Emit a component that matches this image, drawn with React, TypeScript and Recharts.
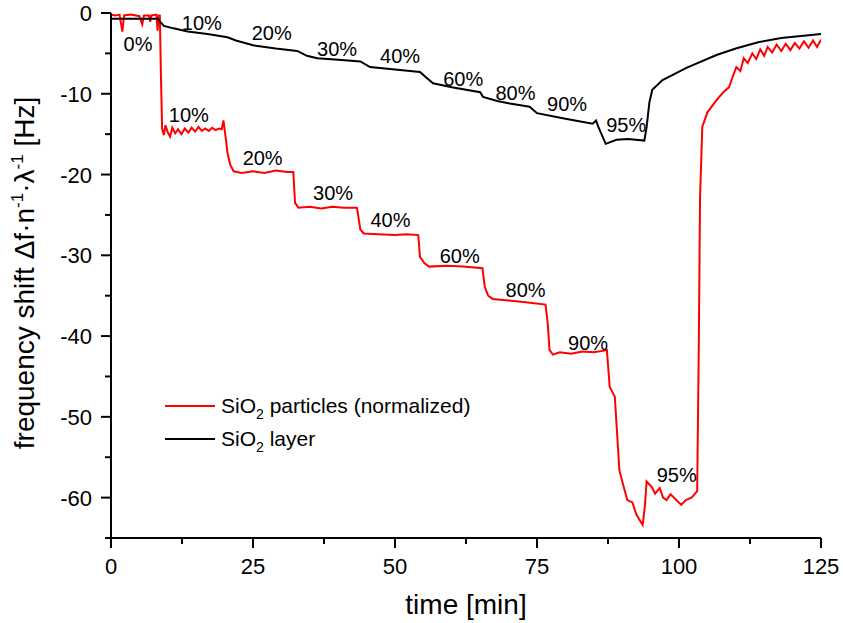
import { Line, LineChart, ReferenceDot, XAxis, YAxis } from "recharts";

const redTime = [
  0, 0.8, 1.5, 2.0, 2.3, 3.5, 5.0, 5.5, 5.8, 6.7, 6.9, 7.1, 8.0, 8.2, 8.4, 8.6, 8.8, 9.0, 9.3, 9.6,
  10.0, 10.4, 10.8, 11.3, 11.8, 12.4, 13.0, 13.6, 14.2, 14.8, 15.4, 16.0, 16.6, 17.2, 17.8, 18.4,
  19.0, 19.5, 19.8, 20.2, 20.5, 21.0, 21.6, 23, 25, 27, 29, 31, 32.1, 32.4, 33, 35, 37, 39, 41,
  43.3, 43.9, 44.5, 47, 50, 52, 54.1, 54.4, 55.2, 56, 59, 62, 65.4, 65.8, 66.4, 67.2, 70, 73,
  76.5, 76.9, 77.2, 77.8, 79, 81, 83, 85, 86.8, 87.3, 87.8, 88.7, 89.5, 90.2, 90.9, 91.8, 92.5,
  93.6, 94.0, 94.3, 95.2, 95.8, 96.6, 97.2, 97.8, 98.5, 99.4, 100.4, 101.2, 102.2, 103.2, 103.5,
  103.7, 104.1, 105, 106.6, 107.8, 108.8, 109.5, 110.1, 110.8, 111.4, 112.1, 112.9, 113.6, 114.3,
  115.0, 115.6, 116.4, 117.2, 118.0, 118.8, 119.6, 120.4, 121.2, 122.0, 122.8, 123.6, 124.3, 125.0,
];
const redShift = [
  -0.2, -0.3, -0.2, -2.3, -0.3, -0.2, -0.4, -1.4, -0.3, -0.3, -1.1, -0.3, -0.2, -2.2, -0.3, -0.3,
  -8, -14.3, -15.1, -13.9, -14.8, -15.3, -14.2, -14.9, -14.4, -15.0, -14.3, -14.8, -14.2, -14.7,
  -14.1, -14.6, -14.3, -14.6, -14.2, -14.5, -14.3, -14.4, -13.3, -15.5, -17.3, -18.8, -19.6, -19.8,
  -19.6, -19.8, -19.5, -19.7, -19.7, -23.5, -24.1, -24.0, -24.2, -24.0, -24.1, -24.1, -26.8, -27.3,
  -27.4, -27.5, -27.4, -27.5, -30.2, -31.0, -31.4, -31.3, -31.4, -31.6, -33.9, -35.0, -35.4, -35.6,
  -35.8, -36.1, -38.5, -41.7, -42.3, -42.0, -42.2, -41.9, -42.0, -41.8, -41.7, -46.3, -47.5, -56.6,
  -58.5, -60.3, -60.6, -62.1, -63.4, -61, -58.0, -58.7, -59.5, -58.8, -60.0, -60.3, -59.6, -60.2,
  -60.9, -60.3, -60.0, -59.2, -40, -23, -14.1, -12.3, -10.8, -9.8, -9.2, -7.8, -6.7, -7.2, -5.6,
  -6.2, -5.0, -5.7, -4.5, -5.3, -4.2, -4.9, -3.9, -4.7, -3.8, -4.6, -3.7, -4.4, -3.5, -4.3, -3.4,
  -4.2, -3.3,
];

const blackTime = [
  0, 4, 8.2, 8.8, 9.3, 11, 13.5, 17, 20.5, 22, 25, 29, 32.8, 34.5, 36.3, 40, 43.9, 45.6, 50, 54.4,
  55.5, 56.7, 60, 65, 65.5, 68, 70.2, 73.7, 75, 80, 84.8, 85.4, 85.8, 87.1, 89, 91, 93.9, 94.3,
  94.8, 95.3, 97.1, 101.3, 106.6, 110, 114.1, 118, 125,
];
const blackShift = [
  -0.7, -0.7, -0.7, -1.2, -1.6, -1.9, -2.3, -2.6, -3.0, -3.4, -4.0, -4.4, -4.7, -5.3, -5.6, -5.8,
  -6.0, -6.7, -7.0, -7.3, -8.0, -8.7, -9.2, -9.8, -10.4, -10.9, -11.2, -11.6, -12.4, -13.1, -13.7,
  -13.3, -14.1, -16.2, -15.7, -15.6, -15.8, -14.1, -11, -9.5, -8.3, -6.8, -5.2, -4.4, -3.6, -3.1,
  -2.6,
];

const redLabelTime = [4.75, 13.7, 26.7, 39.1, 49.2, 61.4, 73.0, 84.0, 99.6];
const redLabelShift = [-3.8, -12.6, -18.0, -22.3, -25.6, -30.1, -34.3, -40.8, -57.2];
const redLabelText = ["0%", "10%", "20%", "30%", "40%", "60%", "80%", "90%", "95%"];

const blackLabelTime = [16.0, 28.3, 39.8, 50.9, 62.0, 71.2, 80.3, 90.7];
const blackLabelShift = [-1.2, -2.5, -4.5, -5.3, -8.2, -9.9, -11.3, -13.9];
const blackLabelText = ["10%", "20%", "30%", "40%", "60%", "80%", "90%", "95%"];

const xTicks = [0, 12.5, 25, 37.5, 50, 62.5, 75, 87.5, 100, 112.5, 125];
const xMajor = [0, 25, 50, 75, 100, 125];
const yTicks = [-65, -60, -55, -50, -45, -40, -35, -30, -25, -20, -15, -10, -5, 0];
const yMajor = [-60, -50, -40, -30, -20, -10, 0];

const redData = redTime.map((t, i) => ({ t, v: redShift[i] }));
const blackData = blackTime.map((t, i) => ({ t, v: blackShift[i] }));

const FONT = "Arial, 'Liberation Sans', Helvetica, sans-serif";
const W = 843;
const H = 623;
const M = { top: 13, right: 22, bottom: 45, left: 51 };
const Y_AXIS_W = 60;
const X_AXIS_H = 40;
const AXIS_X = M.left + Y_AXIS_W;
const AXIS_Y = H - M.bottom - X_AXIS_H;

function XTick(props: any) {
  const { x, payload } = props;
  const major = xMajor.includes(payload.value);
  return (
    <g>
      <line x1={x} x2={x} y1={AXIS_Y} y2={AXIS_Y + (major ? 10 : 6)} stroke="#000" strokeWidth={2} />
      {major && (
        <text x={x} y={AXIS_Y + 36} textAnchor="middle" fontSize={22} fontFamily={FONT} fill="#000">
          {payload.value}
        </text>
      )}
    </g>
  );
}

function YTick(props: any) {
  const { y, payload } = props;
  const major = yMajor.includes(payload.value);
  return (
    <g>
      <line x1={AXIS_X - (major ? 10 : 6)} x2={AXIS_X} y1={y} y2={y} stroke="#000" strokeWidth={2} />
      {major && (
        <text x={AXIS_X - 19} y={y + 8} textAnchor="end" fontSize={22} fontFamily={FONT} fill="#000">
          {payload.value}
        </text>
      )}
    </g>
  );
}

function PctLabel(props: any) {
  const { viewBox, value } = props;
  const cx = viewBox.x + (viewBox.width || 0) / 2;
  const cy = viewBox.y + (viewBox.height || 0) / 2;
  return (
    <text x={cx} y={cy + 7} textAnchor="middle" fontSize={20} fontFamily={FONT} fill="#000">
      {value}
    </text>
  );
}

const legendRows = [
  { color: "#ff0000", rest: " particles (normalized)", y: 406 },
  { color: "#000000", rest: " layer", y: 439 },
];

export default function App() {
  return (
    <div style={{ position: "absolute", left: 0, top: 0, width: W, height: H, background: "#fff" }}>
      <LineChart width={W} height={H} margin={M}>
        <XAxis
          dataKey="t"
          type="number"
          domain={[0, 125]}
          ticks={xTicks}
          interval={0}
          tick={<XTick />}
          tickLine={false}
          height={X_AXIS_H}
          axisLine={{ stroke: "#000", strokeWidth: 2 }}
          allowDataOverflow
        />
        <YAxis
          type="number"
          domain={[-65, 0]}
          ticks={yTicks}
          interval={0}
          tick={<YTick />}
          tickLine={false}
          width={Y_AXIS_W}
          axisLine={{ stroke: "#000", strokeWidth: 2 }}
          allowDataOverflow
        />
        <Line
          data={redData}
          dataKey="v"
          name="SiO2 particles (normalized)"
          stroke="#ff0000"
          strokeWidth={2}
          dot={false}
          type="linear"
          isAnimationActive={false}
        />
        <Line
          data={blackData}
          dataKey="v"
          name="SiO2 layer"
          stroke="#000000"
          strokeWidth={2}
          dot={false}
          type="linear"
          isAnimationActive={false}
        />
        {redLabelTime.map((t, i) => (
          <ReferenceDot
            key={`r${i}`}
            x={t}
            y={redLabelShift[i]}
            r={0}
            fill="none"
            stroke="none"
            label={<PctLabel value={redLabelText[i]} />}
          />
        ))}
        {blackLabelTime.map((t, i) => (
          <ReferenceDot
            key={`b${i}`}
            x={t}
            y={blackLabelShift[i]}
            r={0}
            fill="none"
            stroke="none"
            label={<PctLabel value={blackLabelText[i]} />}
          />
        ))}
        {/* legend */}
        {legendRows.map((r) => (
          <g key={r.rest}>
            <line x1={165} x2={215} y1={r.y} y2={r.y} stroke={r.color} strokeWidth={2} />
            <text x={221} y={r.y + 7} fontSize={21} fontFamily={FONT} fill="#000">
              SiO
              <tspan dy={6} fontSize={14}>2</tspan>
              <tspan dy={-6}>{r.rest}</tspan>
            </text>
          </g>
        ))}
        <text x={466} y={614} textAnchor="middle" fontSize={28} fontFamily={FONT} fill="#000">
          time [min]
        </text>
        <text
          transform="translate(34, 273) rotate(-90)"
          textAnchor="middle"
          fontSize={28}
          fontFamily={FONT}
          fill="#000"
        >
          frequency shift Δf·n
          <tspan dy={-11} fontSize={17}>-1</tspan>
          <tspan dy={11}>·λ</tspan>
          <tspan dy={-11} fontSize={17}>-1</tspan>
          <tspan dy={11}> [Hz]</tspan>
        </text>
      </LineChart>
    </div>
  );
}
